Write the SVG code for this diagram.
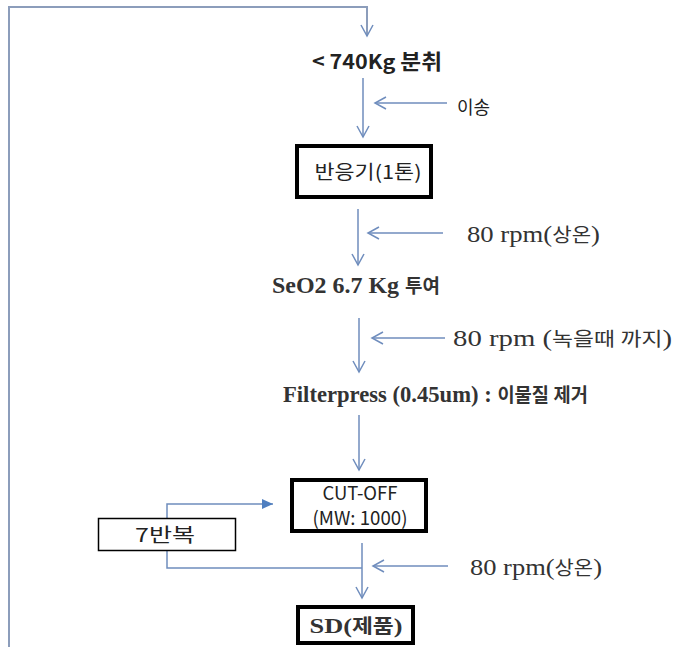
<svg xmlns="http://www.w3.org/2000/svg" width="681" height="647" viewBox="0 0 681 647">
<style>
.ln{fill:none;stroke:#6f8dbd;stroke-width:1.5}
.big{fill:none;stroke:#8c9dbb;stroke-width:2}
.bx{fill:#fff;stroke:#000;stroke-width:4}
.thin{fill:#fff;stroke:#000;stroke-width:1.5}
.sans{font-family:"Noto Sans CJK KR","Noto Sans",sans-serif;fill:#222}
.serif{font-family:"Liberation Serif","Noto Sans CJK KR",serif;fill:#333}
.k{font-size:19px}
</style>
<defs>
<marker id="v" markerUnits="userSpaceOnUse" markerWidth="14" markerHeight="14" viewBox="0 0 14 14" refX="12" refY="7" orient="auto">
<path d="M1,1 L12,7 L1,13" fill="none" stroke="#6f8dbd" stroke-width="1.5"/>
</marker>
<marker id="f" markerUnits="userSpaceOnUse" markerWidth="12" markerHeight="12" viewBox="0 0 12 12" refX="11" refY="6" orient="auto">
<path d="M0,1 L11,6 L0,11 Z" fill="#4f7fc0"/>
</marker>
</defs>
<rect width="681" height="647" fill="#fff"/>
<g id="connectors">
<path class="big" d="M9,647 V7 H367 V36" marker-end="url(#v)"/>
<path class="ln" d="M363,78 V137" marker-end="url(#v)"/>
<path class="ln" d="M447,103 H375" marker-end="url(#v)"/>
<path class="ln" d="M358,209 V265" marker-end="url(#v)"/>
<path class="ln" d="M443,233 H368" marker-end="url(#v)"/>
<path class="ln" d="M359,318 V372" marker-end="url(#v)"/>
<path class="ln" d="M445,338 H372" marker-end="url(#v)"/>
<path class="ln" d="M359,415 V470" marker-end="url(#v)"/>
<path class="ln" d="M362,543 V598" marker-end="url(#v)"/>
<path class="ln" d="M448,566 H373" marker-end="url(#v)"/>
<path class="ln" d="M167,518 V504 H273" stroke="#4f7fc0" marker-end="url(#f)"/>
<path class="ln" d="M167,551 V568 H362"/>
</g>
<g id="n1"><text class="sans" x="312" y="69" font-size="20" font-weight="bold" textLength="130" lengthAdjust="spacingAndGlyphs">&lt; 740Kg <tspan font-size="21">분취</tspan></text></g>
<g id="t1"><text class="sans" x="457" y="114" font-size="18">이송</text></g>
<g id="n2"><rect class="bx" x="297" y="146" width="134" height="51"/>
<text class="sans" x="368" y="179" font-size="19" text-anchor="middle" textLength="107" lengthAdjust="spacingAndGlyphs">반응기(1톤)</text></g>
<g id="t2"><text class="serif" x="467" y="242" font-size="24" textLength="133" lengthAdjust="spacingAndGlyphs">80 rpm(<tspan class="k">상온</tspan>)</text></g>
<g id="n3"><text class="serif" x="272" y="293" font-size="24" font-weight="bold" fill="#111" textLength="168" lengthAdjust="spacingAndGlyphs">SeO2 6.7 Kg <tspan font-size="19">투여</tspan></text></g>
<g id="t3"><text class="serif" x="453" y="346" font-size="24" textLength="219" lengthAdjust="spacingAndGlyphs">80 rpm (<tspan class="k">녹을때 까지</tspan>)</text></g>
<g id="n4"><text class="serif" x="283" y="402" font-size="23" font-weight="bold" fill="#111" textLength="305" lengthAdjust="spacingAndGlyphs">Filterpress (0.45um) : <tspan font-size="19">이물질 제거</tspan></text></g>
<g id="n5"><rect class="bx" x="292" y="480" width="134" height="51"/>
<text class="sans" x="360" y="500" font-size="19" text-anchor="middle" textLength="75" lengthAdjust="spacingAndGlyphs">CUT-OFF</text>
<text class="sans" x="360" y="525" font-size="19" text-anchor="middle" textLength="95" lengthAdjust="spacingAndGlyphs">(MW: 1000)</text></g>
<g id="n6"><rect class="thin" x="98.5" y="518.5" width="137" height="32"/>
<text class="sans" x="165" y="542" font-size="19" text-anchor="middle" textLength="60" lengthAdjust="spacingAndGlyphs">7반복</text></g>
<g id="t4"><text class="serif" x="470" y="575" font-size="24" textLength="132" lengthAdjust="spacingAndGlyphs">80 rpm(<tspan class="k">상온</tspan>)</text></g>
<g id="n7"><rect class="bx" x="298" y="607" width="115" height="36"/>
<text class="serif" x="356" y="633" font-size="22" font-weight="bold" fill="#111" text-anchor="middle" textLength="93" lengthAdjust="spacingAndGlyphs">SD(<tspan class="k">제품</tspan>)</text></g>
</svg>
